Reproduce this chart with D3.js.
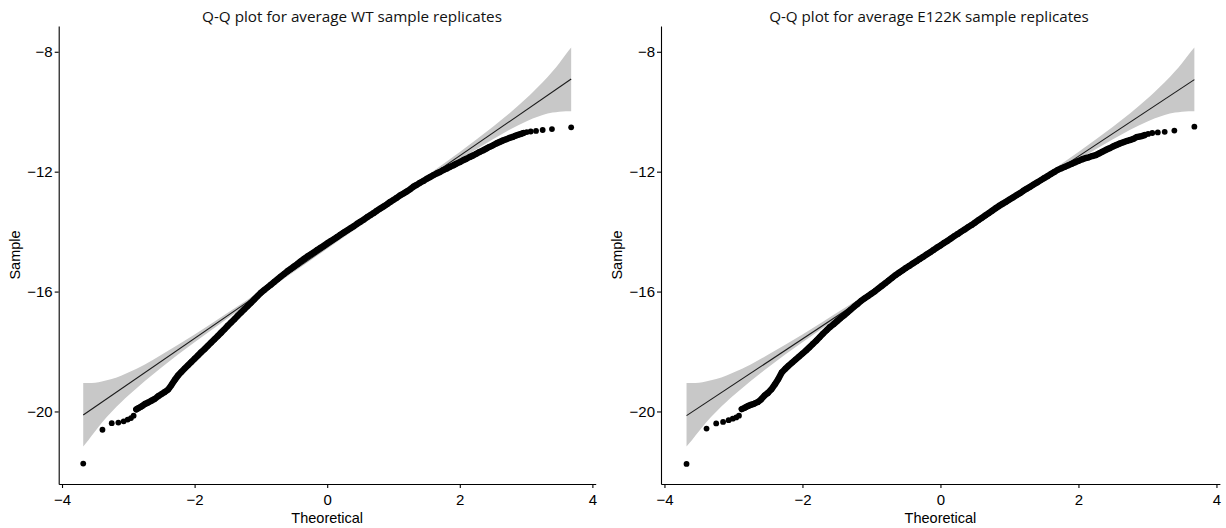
<!DOCTYPE html>
<html>
<head>
<meta charset="utf-8">
<script src="https://cdn.jsdelivr.net/npm/d3@7"></script>
<style>
  body { margin: 0; background: #fff; }
</style>
</head>
<body>
<svg id="chart"></svg>
<script>
// theoretical quantiles (shared by both panels)
const tailLowTheo = [-3.68, -3.39, -3.25, -3.15, -3.07, -3.01, -2.96, -2.92, -2.88, -2.84, -2.81, -2.78, -2.75];
const denseTheo = [
  -2.70, -2.65, -2.60, -2.55, -2.50, -2.45, -2.40, -2.35, -2.30, -2.25,
  -2.20, -2.15, -2.10, -2.05, -2.00, -1.95, -1.90, -1.85, -1.80, -1.75,
  -1.70, -1.65, -1.60, -1.55, -1.50, -1.45, -1.40, -1.35, -1.30, -1.25,
  -1.20, -1.15, -1.10, -1.05, -1.00, -0.95, -0.90, -0.85, -0.80, -0.75,
  -0.70, -0.65, -0.60, -0.55, -0.50, -0.45, -0.40, -0.35, -0.30, -0.25,
  -0.20, -0.15, -0.10, -0.05, 0.00, 0.05, 0.10, 0.15, 0.20, 0.25,
  0.30, 0.35, 0.40, 0.45, 0.50, 0.55, 0.60, 0.65, 0.70, 0.75,
  0.80, 0.85, 0.90, 0.95, 1.00, 1.05, 1.10, 1.15, 1.20, 1.25,
  1.30, 1.35, 1.40, 1.45, 1.50, 1.55, 1.60, 1.65, 1.70, 1.75,
  1.80, 1.85, 1.90, 1.95, 2.00, 2.05, 2.10, 2.15, 2.20, 2.25,
  2.30, 2.35, 2.40, 2.45, 2.50, 2.55, 2.60, 2.65, 2.70, 2.75,
  2.80
];
const tailHighTheo = [2.84, 2.88, 2.92, 2.96, 3.01, 3.07, 3.15, 3.25, 3.39, 3.68];

// sample quantiles, WT
const wtSample = [
  -21.74, -20.61, -20.39, -20.37, -20.33, -20.27, -20.22, -20.14, -19.93, -19.88, -19.84, -19.80, -19.75,
  -19.70, -19.64, -19.58, -19.49, -19.42, -19.35, -19.27, -19.12, -18.95, -18.80,
  -18.68, -18.57, -18.46, -18.35, -18.24, -18.13, -18.02, -17.92, -17.81, -17.70,
  -17.59, -17.48, -17.37, -17.26, -17.14, -17.03, -16.92, -16.81, -16.70, -16.59,
  -16.48, -16.37, -16.26, -16.15, -16.04, -15.95, -15.86, -15.77, -15.68, -15.59,
  -15.50, -15.41, -15.32, -15.24, -15.16, -15.08, -14.99, -14.91, -14.83, -14.76,
  -14.69, -14.61, -14.54, -14.47, -14.39, -14.32, -14.25, -14.18, -14.10, -14.03,
  -13.96, -13.89, -13.82, -13.74, -13.67, -13.60, -13.52, -13.45, -13.38, -13.30,
  -13.23, -13.16, -13.09, -13.01, -12.94, -12.87, -12.79, -12.73, -12.66, -12.59,
  -12.50, -12.44, -12.37, -12.31, -12.24, -12.18, -12.12, -12.06, -12.01, -11.95,
  -11.90, -11.84, -11.79, -11.73, -11.68, -11.62, -11.57, -11.51, -11.46, -11.40,
  -11.34, -11.29, -11.23, -11.17, -11.12, -11.06, -11.01, -10.96, -10.92, -10.87,
  -10.84,
  -10.80, -10.77, -10.74, -10.71, -10.68, -10.66, -10.64, -10.61, -10.58, -10.52
];

// sample quantiles, E122K
const e122kSample = [
  -21.75, -20.57, -20.40, -20.35, -20.29, -20.24, -20.20, -20.14, -19.92, -19.88, -19.84, -19.81, -19.78,
  -19.74, -19.69, -19.60, -19.47, -19.38, -19.26, -19.10, -18.92, -18.70, -18.58,
  -18.47, -18.37, -18.27, -18.17, -18.07, -17.97, -17.86, -17.75, -17.64, -17.52,
  -17.40, -17.29, -17.18, -17.09, -16.99, -16.89, -16.80, -16.70, -16.60, -16.50,
  -16.41, -16.31, -16.23, -16.15, -16.07, -15.99, -15.90, -15.81, -15.72, -15.63,
  -15.54, -15.45, -15.37, -15.29, -15.21, -15.14, -15.06, -14.99, -14.91, -14.84,
  -14.76, -14.69, -14.61, -14.53, -14.46, -14.38, -14.31, -14.23, -14.15, -14.08,
  -14.00, -13.93, -13.85, -13.78, -13.70, -13.62, -13.54, -13.46, -13.38, -13.30,
  -13.22, -13.14, -13.07, -13.00, -12.93, -12.86, -12.79, -12.72, -12.64, -12.57,
  -12.50, -12.43, -12.36, -12.29, -12.22, -12.15, -12.08, -12.01, -11.94, -11.89,
  -11.84, -11.79, -11.74, -11.69, -11.64, -11.59, -11.55, -11.52, -11.48, -11.45,
  -11.39, -11.33, -11.27, -11.22, -11.16, -11.11, -11.06, -11.02, -10.98, -10.94,
  -10.90,
  -10.85, -10.83, -10.81, -10.78, -10.74, -10.71, -10.69, -10.67, -10.63, -10.50
];

// reference line end points and confidence band
const lineTheo = [-3.68, 3.68];
const wtLine = [-20.12, -8.91];
const e122kLine = [-20.14, -8.93];
const bandTheo = [-3.68, -3.6, -3.5, -3.4, -3.25, -3.1, -3.0, -2.75, -2.5, -2.0, -1.5, -1.0, -0.5, 0,
  0.5, 1.0, 1.5, 2.0, 2.5, 2.75, 3.0, 3.1, 3.25, 3.4, 3.5, 3.6, 3.68];
const bandLow = [-21.17, -20.95, -20.66, -20.38, -20.01, -19.68, -19.47, -18.98, -18.53, -17.69, -16.89, -16.11, -15.34, -14.57,
  -13.81, -13.06, -12.32, -11.60, -10.92, -10.60, -10.33, -10.23, -10.11, -10.03, -10.00, -9.98, -9.98];
const bandHigh = [-19.05, -19.05, -19.04, -19.00, -18.92, -18.80, -18.70, -18.43, -18.11, -17.43, -16.71, -15.97, -15.22, -14.46,
  -13.69, -12.92, -12.14, -11.34, -10.50, -10.05, -9.56, -9.35, -9.02, -8.65, -8.38, -8.08, -7.86];

const xTicks = [-4, -2, 0, 2, 4];
const yTicks = [-8, -12, -16, -20];
const titles = ["Q-Q plot for average WT sample replicates", "Q-Q plot for average E122K sample replicates"];

const width = 1226, height = 528;
const plotTop = 26, plotBottom = 484;
const labelFont = "'Liberation Sans', Arial, sans-serif";

let svg = d3.select("#chart")
  .attr("width", width)
  .attr("height", height);

let theo = tailLowTheo.concat(denseTheo, tailHighTheo);

let panels = [
  { title: titles[0], sample: wtSample, line: wtLine, left: 58.7, right: 595.7, titleX: 352, titleW: 300 },
  { title: titles[1], sample: e122kSample, line: e122kLine, left: 661, right: 1219.9, titleX: 929, titleW: 320 }
];

panels.forEach(p => {
  let x = d3.scaleLinear().domain([-4.05, 4.05]).range([p.left, p.right]);
  let y = d3.scaleLinear().domain([-22.42, -7.14]).range([plotBottom, plotTop]);
  let g = svg.append("g");

  // confidence band
  let band = bandTheo.map((t, i) => [t, bandLow[i], bandHigh[i]]);
  g.append("path")
    .datum(band)
    .attr("fill", "#c8c8c8")
    .attr("d", d3.area()
      .x(d => x(d[0]))
      .y0(d => y(d[1]))
      .y1(d => y(d[2]))
      .curve(d3.curveMonotoneX));

  // reference line
  g.append("line")
    .attr("x1", x(lineTheo[0])).attr("y1", y(p.line[0]))
    .attr("x2", x(lineTheo[1])).attr("y2", y(p.line[1]))
    .attr("stroke", "#1a1a1a")
    .attr("stroke-width", 1.1);

  let pts = theo.map((t, i) => [t, p.sample[i]]);

  // the overlapping points in the dense middle merge into one thick stroke
  let dense = pts.filter(d => d[0] >= -2.88 && d[0] <= 2.96);
  g.append("path")
    .datum(dense)
    .attr("fill", "none")
    .attr("stroke", "#000")
    .attr("stroke-width", 6.4)
    .attr("stroke-linecap", "round")
    .attr("stroke-linejoin", "round")
    .attr("d", d3.line().x(d => x(d[0])).y(d => y(d[1])));

  g.append("g").selectAll("circle")
    .data(pts)
    .join("circle")
      .attr("cx", d => x(d[0]))
      .attr("cy", d => y(d[1]))
      .attr("r", 2.9)
      .attr("fill", "#000");

  // axes
  let xAxis = g.append("g")
    .attr("transform", "translate(0," + plotBottom + ")")
    .call(d3.axisBottom(x).tickValues(xTicks).tickSize(4).tickSizeOuter(0).tickPadding(6));
  let yAxis = g.append("g")
    .attr("transform", "translate(" + p.left + ",0)")
    .call(d3.axisLeft(y).tickValues(yTicks).tickSize(4).tickSizeOuter(0).tickPadding(2));
  [xAxis, yAxis].forEach(a => {
    a.attr("font-family", null).attr("font-size", null);
    a.select(".domain").attr("stroke", "#000").attr("stroke-width", 1.1);
    a.selectAll(".tick line").attr("stroke", "#000").attr("stroke-width", 1.1);
    a.selectAll(".tick text")
      .attr("fill", "#000")
      .style("font-family", labelFont)
      .style("font-size", "15px");
  });

  // labels
  g.append("text")
    .attr("x", (p.left + p.right) / 2)
    .attr("y", 523)
    .attr("text-anchor", "middle")
    .style("font-family", labelFont)
    .style("font-size", "14.5px")
    .text("Theoretical");
  g.append("text")
    .attr("transform", "translate(" + (p.left - 39) + "," + (plotTop + plotBottom) / 2 + ") rotate(-90)")
    .attr("text-anchor", "middle")
    .style("font-family", labelFont)
    .style("font-size", "14.5px")
    .text("Sample");
  let title = g.append("text")
    .attr("x", p.titleX)
    .attr("y", 22)
    .attr("text-anchor", "middle")
    .style("font-family", "'Open Sans', Lato, sans-serif")
    .style("font-size", "15px")
    .attr("fill", "#111")
    .text(p.title);
  // fit the title to the width it has in the original
  let len = title.node().getComputedTextLength();
  title.style("font-size", (15 * p.titleW / len).toFixed(2) + "px");
});
</script>
</body>
</html>
